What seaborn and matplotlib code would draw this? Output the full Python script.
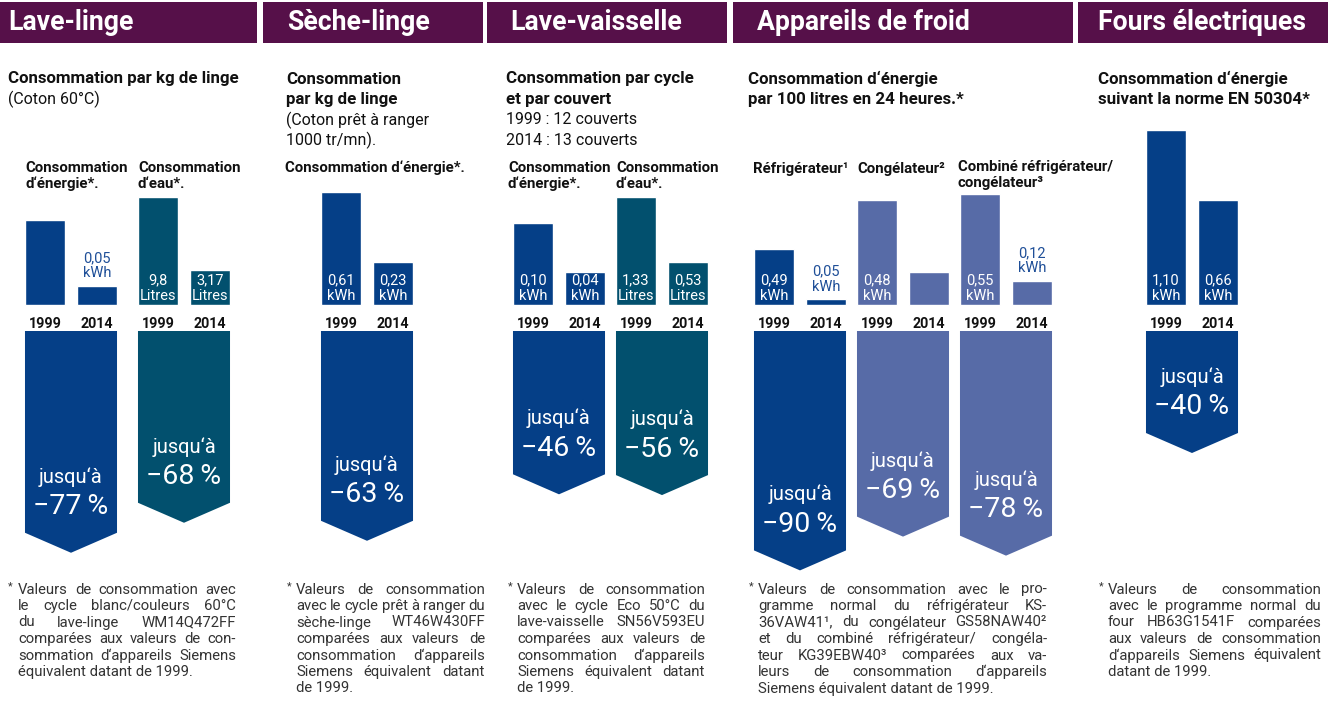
import matplotlib
matplotlib.use("Agg")
import matplotlib.pyplot as plt
import seaborn as sns
from matplotlib.patches import Rectangle, Polygon

sns.set_theme(style="white")
plt.rcParams["font.family"] = ["Roboto", "DejaVu Sans"]

annees = ["1999", "2014"]
lave_linge_energie = [0.22, 0.05]      # 1999 non indiqué : déduit de -77 %
lave_linge_eau = [9.8, 3.17]
seche_linge_energie = [0.61, 0.23]
lave_vaisselle_energie = [0.10, 0.04]
lave_vaisselle_eau = [1.33, 0.53]
refrigerateur = [0.49, 0.05]
congelateur = [0.48, 0.15]             # 2014 non indiqué : déduit de -69 %
combine = [0.55, 0.12]
fours = [1.10, 0.66]

reductions = [77, 68, 63, 46, 56, 90, 69, 78, 40]

etiquettes = [
    ["", "0,05\nkWh"],
    ["9,8\nLitres", "3,17\nLitres"],
    ["0,61\nkWh", "0,23\nkWh"],
    ["0,10\nkWh", "0,04\nkWh"],
    ["1,33\nLitres", "0,53\nLitres"],
    ["0,49\nkWh", "0,05\nkWh"],
    ["0,48\nkWh", ""],
    ["0,55\nkWh", "0,12\nkWh"],
    ["1,10\nkWh", "0,66\nkWh"],
]

titres = ["Lave-linge", "Sèche-linge", "Lave-vaisselle", "Appareils de froid", "Fours électriques"]

# couleurs
BLEU = "#053F87"
PETROLE = "#02506E"
LAVANDE = "#576BA7"
VIOLET = "#561049"
BLEU_TXT = "#1F4F98"
NOIR = "#111111"
GRIS = "#333333"

W, H = 1328, 722
BASE = 305      # ligne de base des barres (px)
HAUT_AX = 185   # hauteur des axes de barres (px)
FLECHE_HAUT = 331
FLECHE_BAS = 600
POINTE = 20

fig = plt.figure(figsize=(W / 100, H / 100), dpi=100)
fig.patch.set_facecolor("white")

# axes de fond en pixels pour bandeaux et textes
bg = fig.add_axes([0, 0, 1, 1])
bg.set_xlim(0, W)
bg.set_ylim(H, 0)
bg.axis("off")

# bandeaux de titre
bandeaux = [(0, 257), (263, 483), (487, 727), (733, 1073), (1078, 1328)]
titre_x = [8, 287, 510, 757, 1098]
for (x0, x1), tx, t in zip(bandeaux, titre_x, titres):
    bg.add_patch(Rectangle((x0, 2), x1 - x0, 41, color=VIOLET, lw=0))
    bg.text(tx, 23, t, color="white", fontsize=19.2, fontweight="bold", va="center")


def lignes(x, y0, dy, contenu, taille_gras, taille_normal):
    for i, (txt, gras) in enumerate(contenu):
        bg.text(x, y0 + i * dy, txt, va="center", color=NOIR,
                fontweight="bold" if gras else "normal",
                fontsize=taille_gras if gras else taille_normal)


# intitulés de section
sections = [
    (8, [("Consommation par kg de linge", True), ("(Coton 60°C)", False)]),
    (286, [("Consommation", True), ("par kg de linge", True),
           ("(Coton prêt à ranger", False), ("1000 tr/mn).", False)]),
    (506, [("Consommation par cycle", True), ("et par couvert", True),
           ("1999 : 12 couverts", False), ("2014 : 13 couverts", False)]),
    (748, [("Consommation d‘énergie", True), ("par 100 litres en 24 heures.*", True)]),
    (1098, [("Consommation d‘énergie", True), ("suivant la norme EN 50304*", True)]),
]
for x, contenu in sections:
    lignes(x, 79, 20.5, contenu, 12.2, 11.5)

# sous-titres au-dessus des barres
sous_titres = [
    (25, 168, ["Consommation", "d‘énergie*."]),
    (138, 168, ["Consommation", "d‘eau*."]),
    (285, 168, ["Consommation d‘énergie*."]),
    (508, 168, ["Consommation", "d‘énergie*."]),
    (616, 168, ["Consommation", "d‘eau*."]),
    (753, 169, ["Réfrigérateur¹"]),
    (857, 169, ["Congélateur²"]),
    (958, 167, ["Combiné réfrigérateur/", "congélateur³"]),
]
for x, y, ls in sous_titres:
    lignes(x, y, 16, [(l, True) for l in ls], 10.8, 10.8)

# groupes : (valeurs, couleur, gauche px, haut de l'axe y, px par % pour la flèche)
groupes = [
    (lave_linge_energie, BLEU, 19, 0.48, 2.88),
    (lave_linge_eau, PETROLE, 132, 16.8, 2.82),
    (seche_linge_energie, BLEU, 315, 1.0, 3.33),
    (lave_vaisselle_energie, BLEU, 507, 0.225, 3.55),
    (lave_vaisselle_eau, PETROLE, 610, 2.28, 2.93),
    (refrigerateur, BLEU, 748, 1.62, 2.66),
    (congelateur, LAVANDE, 851, 0.845, 2.98),
    (combine, LAVANDE, 954, 0.915, 2.88),
    (fours, BLEU, 1140, 1.16, 3.05),
]

for (vals, coul, gauche, ymax, s), labs, red in zip(groupes, etiquettes, reductions):
    ax = fig.add_axes([gauche / W, (H - BASE) / H, 104 / W, HAUT_AX / H])
    sns.barplot(x=annees, y=vals, color=coul, saturation=1, width=0.77, ax=ax)
    ax.set_ylim(0, ymax)
    ax.set_xlim(-0.5, 1.5)
    ax.patch.set_alpha(0)
    for sp in ax.spines.values():
        sp.set_visible(False)
    ax.set_yticks([])
    ax.set_ylabel("")
    ax.tick_params(axis="x", length=0, pad=9)
    for tl in ax.get_xticklabels():
        tl.set_fontweight("bold")
        tl.set_fontsize(10.3)
        tl.set_color(NOIR)
    for b in ax.patches:
        b.set_clip_on(False)
    for i, (v, lab) in enumerate(zip(vals, labs)):
        if not lab:
            continue
        h_px = v / ymax * HAUT_AX
        if h_px > 30:
            ax.annotate(lab, xy=(i, 0), xytext=(0, 17), textcoords="offset pixels",
                        ha="center", va="center", color="white", fontsize=10.5,
                        linespacing=1.12)
        else:
            ax.annotate(lab, xy=(i, v), xytext=(0, 20), textcoords="offset pixels",
                        ha="center", va="center", color=BLEU_TXT, fontsize=10.5,
                        linespacing=1.12, annotation_clip=False)

    # flèche de réduction
    hauteur = FLECHE_BAS - FLECHE_HAUT
    fa = fig.add_axes([gauche / W, (H - FLECHE_BAS) / H, 104 / W, hauteur / H])
    fa.set_xlim(-0.5, 1.5)
    fa.set_ylim(-hauteur / s, 0)
    fa.axis("off")
    xl, xr, pt = -0.385, 1.385, POINTE / s
    epaule = -(red - pt)
    fa.add_patch(Polygon([(xl, 0), (xr, 0), (xr, epaule), (0.5, -red), (xl, epaule)],
                         closed=True, color=coul, lw=0))
    fa.annotate("jusqu‘à", xy=(0.5, epaule), xytext=(0, 56), textcoords="offset pixels",
                ha="center", va="center", color="white", fontsize=14.5)
    fa.annotate(f"\u2212{red}\u2009%", xy=(0.5, epaule), xytext=(0, 26), textcoords="offset pixels",
                ha="center", va="center", color="white", fontsize=20.5)

# notes de bas de page justifiées
renderer = fig.canvas.get_renderer()
FN_KW = dict(fontsize=10.7, color=GRIS, va="center")


def largeur(mot):
    t = bg.text(0, 0, mot, **FN_KW)
    w = t.get_window_extent(renderer).width
    t.remove()
    return w


notes = [
    (8, 18, 236, ["Valeurs de consommation avec", "le cycle blanc/couleurs 60°C",
                  "du lave-linge WM14Q472FF", "comparées aux valeurs de con-",
                  "sommation d‘appareils Siemens", "équivalent datant de 1999."]),
    (287, 296, 485, ["Valeurs de consommation", "avec le cycle prêt à ranger du",
                     "sèche-linge WT46W430FF", "comparées aux valeurs de",
                     "consommation d‘appareils", "Siemens équivalent datant", "de 1999."]),
    (508, 517, 705, ["Valeurs de consommation", "avec le cycle Eco 50°C du",
                     "lave-vaisselle SN56V593EU", "comparées aux valeurs de",
                     "consommation d‘appareils", "Siemens équivalent datant", "de 1999."]),
    (749, 758, 1047, ["Valeurs de consommation avec le pro-", "gramme normal du réfrigérateur KS-",
                      "36VAW41¹, du congélateur GS58NAW40²", "et du combiné réfrigérateur/ congéla-",
                      "teur KG39EBW40³ comparées aux va-", "leurs de consommation d‘appareils",
                      "Siemens équivalent datant de 1999."]),
    (1099, 1108, 1321, ["Valeurs de consommation", "avec le programme normal du",
                        "four HB63G1541F comparées", "aux valeurs de consommation",
                        "d‘appareils Siemens équivalent", "datant de 1999."]),
]

for xs, x0, x1, ls in notes:
    bg.text(xs, 586, "*", fontsize=8, color=GRIS, va="center")
    for k, ligne in enumerate(ls):
        y = 589.5 + k * 16.5
        mots = ligne.split(" ")
        if k == len(ls) - 1 or len(mots) == 1:
            bg.text(x0, y, ligne, **FN_KW)
            continue
        lw = [largeur(m) for m in mots]
        gap = max((x1 - x0 - sum(lw)) / (len(mots) - 1), 3)
        x = x0
        for m, w in zip(mots, lw):
            bg.text(x, y, m, **FN_KW)
            x += w + gap

fig.savefig("out.png", dpi=100)
